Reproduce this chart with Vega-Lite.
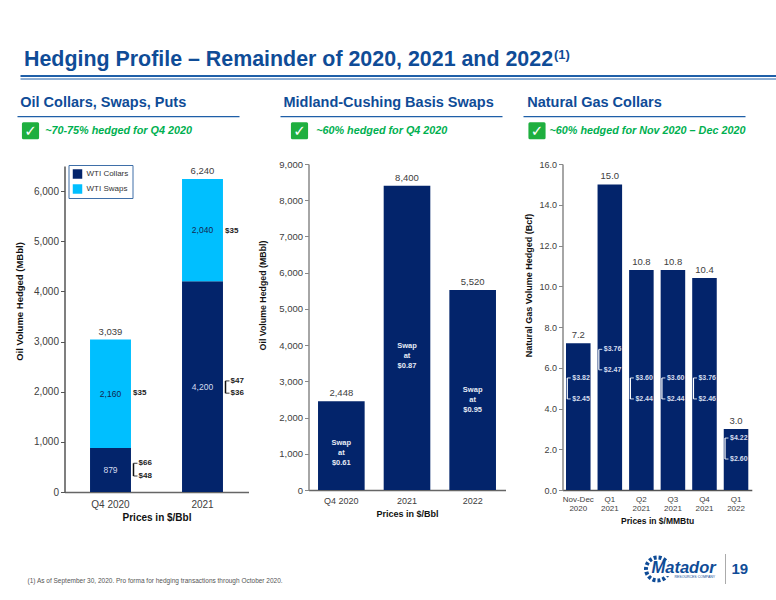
{
  "$schema": "https://vega.github.io/schema/vega-lite/v6.json",
  "background": "white",
  "padding": {"left": 14.5, "top": 0, "right": 0, "bottom": 0},
  "spacing": 0,
  "datasets": {
    "oil": [
      {"quarter": "Q4 2020", "series": "WTI Collars", "volume": 879, "rank": 1},
      {"quarter": "Q4 2020", "series": "WTI Swaps", "volume": 2160, "rank": 2},
      {"quarter": "2021", "series": "WTI Collars", "volume": 4200, "rank": 1},
      {"quarter": "2021", "series": "WTI Swaps", "volume": 2040, "rank": 2}
    ],
    "oilTotals": [
      {"quarter": "Q4 2020", "total": 3039},
      {"quarter": "2021", "total": 6240}
    ],
    "oilSwapPrices": [
      {"quarter": "Q4 2020", "price": "$35", "at": 1976},
      {"quarter": "2021", "price": "$35", "at": 5200}
    ],
    "oilCollarPrices": [
      {"quarter": "Q4 2020", "price": "$66", "at": 572},
      {"quarter": "Q4 2020", "price": "$48", "at": 319},
      {"quarter": "2021", "price": "$47", "at": 2215},
      {"quarter": "2021", "price": "$36", "at": 1970}
    ],
    "oilBrackets": [
      {"quarter": "Q4 2020", "high": 572, "low": 319},
      {"quarter": "2021", "high": 2215, "low": 1970}
    ],
    "basis": [
      {"period": "Q4 2020", "volume": 2448, "note": ["Swap", "at", "$0.61"], "noteAt": 1298},
      {"period": "2021", "volume": 8400, "note": ["Swap", "at", "$0.87"], "noteAt": 3978},
      {"period": "2022", "volume": 5520, "note": ["Swap", "at", "$0.95"], "noteAt": 2762}
    ],
    "gas": [
      {"period": "Nov-Dec 2020", "volume": 7.2, "high": 5.5, "low": 4.47, "highPrice": "$3.82", "lowPrice": "$2.45"},
      {"period": "Q1 2021", "volume": 15.0, "high": 6.9, "low": 5.9, "highPrice": "$3.76", "lowPrice": "$2.47"},
      {"period": "Q2 2021", "volume": 10.8, "high": 5.5, "low": 4.47, "highPrice": "$3.60", "lowPrice": "$2.44"},
      {"period": "Q3 2021", "volume": 10.8, "high": 5.5, "low": 4.47, "highPrice": "$3.60", "lowPrice": "$2.44"},
      {"period": "Q4 2021", "volume": 10.4, "high": 5.5, "low": 4.47, "highPrice": "$3.76", "lowPrice": "$2.46"},
      {"period": "Q1 2022", "volume": 3.0, "high": 2.55, "low": 1.52, "highPrice": "$4.22", "lowPrice": "$2.60"}
    ]
  },
  "vconcat": [
    {
      "bounds": "flush",
      "spacing": 0,
      "hconcat": [
        {"width": 2.5, "height": 81, "data": {"values": []}, "mark": "point"},
        {
          "width": 755.5,
          "height": 81,
          "layer": [
            {
              "data": {"values": [{"row": "upper"}]},
              "mark": {"type": "rule", "color": "#1F5FA8", "strokeWidth": 2},
              "encoding": {"y": {"field": "row", "type": "nominal", "axis": null, "scale": {"type": "point", "domain": ["upper", "lower"], "range": [76, 79], "padding": 0}}}
            },
            {
              "data": {"values": [{"row": "lower"}]},
              "mark": {"type": "rule", "color": "#1F5FA8", "strokeWidth": 1},
              "encoding": {"y": {"field": "row", "type": "nominal", "axis": null}}
            },
            {
              "data": {"values": [
                {"part": "main", "row": "upper", "label": "Hedging Profile – Remainder of 2020, 2021 and 2022"}
              ]},
              "mark": {"type": "text", "align": "left", "baseline": "middle", "dy": -16, "font": "Liberation Sans", "fontWeight": "bold", "fontSize": 21.4, "color": "#0F4C97"},
              "encoding": {
                "x": {"field": "part", "type": "nominal", "axis": null, "scale": {"type": "point", "domain": ["main", "sup"], "range": [3.5, 533.5], "padding": 0}},
                "y": {"field": "row", "type": "nominal", "axis": null},
                "text": {"field": "label"}
              }
            },
            {
              "data": {"values": [{"part": "sup", "row": "upper", "label": "(1)"}]},
              "mark": {"type": "text", "align": "left", "baseline": "middle", "dy": -21, "font": "Liberation Sans", "fontWeight": "bold", "fontSize": 13, "color": "#0F4C97"},
              "encoding": {
                "x": {"field": "part", "type": "nominal", "axis": null},
                "y": {"field": "row", "type": "nominal", "axis": null},
                "text": {"field": "label"}
              }
            }
          ]
        }
      ]
    },
    {
      "bounds": "flush",
      "spacing": 0,
      "hconcat": [
        {
          "width": 222,
          "height": 78,
          "data": {"values": [
            {"part": "check", "row": "heading", "kind": "title", "label": "Oil Collars, Swaps, Puts"},
            {"part": "check", "row": "rule", "kind": "rule"},
            {"part": "check", "row": "note", "kind": "box", "label": "✓"},
            {"part": "note", "row": "note", "kind": "note", "label": "~70-75% hedged for Q4 2020"}
          ]},
          "encoding": {
            "x": {"field": "part", "type": "nominal", "axis": null, "scale": {"type": "point", "domain": ["check", "note"], "range": [13, 27.7], "padding": 0}},
            "y": {"field": "row", "type": "nominal", "axis": null, "scale": {"type": "point", "domain": ["heading", "rule", "note"], "range": [21.5, 49.7], "padding": 0}}
          },
          "layer": [
            {"transform": [{"filter": "datum.kind == 'rule'"}], "mark": {"type": "rule", "color": "#1F5FA8", "strokeWidth": 1.2}, "encoding": {"x": null}},
            {"transform": [{"filter": "datum.kind == 'title'"}], "mark": {"type": "text", "align": "left", "baseline": "middle", "dx": -10.3, "fontWeight": "bold", "fontSize": 14.5, "color": "#0F4C97", "font": "Liberation Sans"}, "encoding": {"text": {"field": "label"}}},
            {"transform": [{"filter": "datum.kind == 'box'"}], "mark": {"type": "point", "shape": "square", "size": 200, "filled": true, "color": "#1FAF3F", "stroke": "#1FAF3F", "strokeWidth": 3, "strokeJoin": "round", "opacity": 1}},
            {"transform": [{"filter": "datum.kind == 'box'"}], "mark": {"type": "text", "baseline": "middle", "font": "DejaVu Sans", "fontWeight": "bold", "fontSize": 15, "color": "white"}, "encoding": {"text": {"field": "label"}}},
            {"transform": [{"filter": "datum.kind == 'note'"}], "mark": {"type": "text", "align": "left", "baseline": "middle", "fontWeight": "bold", "fontStyle": "italic", "fontSize": 10.8, "color": "#00B050", "font": "Liberation Sans"}, "encoding": {"text": {"field": "label"}}}
          ]
        },
        {"width": 41, "height": 78, "data": {"values": []}, "mark": "point"},
        {
          "width": 222,
          "height": 78,
          "data": {"values": [
            {"part": "check", "row": "heading", "kind": "title", "label": "Midland-Cushing Basis Swaps"},
            {"part": "check", "row": "rule", "kind": "rule"},
            {"part": "check", "row": "note", "kind": "box", "label": "✓"},
            {"part": "note", "row": "note", "kind": "note", "label": "~60% hedged for Q4 2020"}
          ]},
          "encoding": {
            "x": {"field": "part", "type": "nominal", "axis": null, "scale": {"type": "point", "domain": ["check", "note"], "range": [19, 35.7], "padding": 0}},
            "y": {"field": "row", "type": "nominal", "axis": null, "scale": {"type": "point", "domain": ["heading", "rule", "note"], "range": [21.5, 49.7], "padding": 0}}
          },
          "layer": [
            {"transform": [{"filter": "datum.kind == 'rule'"}], "mark": {"type": "rule", "color": "#1F5FA8", "strokeWidth": 1.2}, "encoding": {"x": null}},
            {"transform": [{"filter": "datum.kind == 'title'"}], "mark": {"type": "text", "align": "left", "baseline": "middle", "dx": -16, "fontWeight": "bold", "fontSize": 14.5, "color": "#0F4C97", "font": "Liberation Sans"}, "encoding": {"text": {"field": "label"}}},
            {"transform": [{"filter": "datum.kind == 'box'"}], "mark": {"type": "point", "shape": "square", "size": 200, "filled": true, "color": "#1FAF3F", "stroke": "#1FAF3F", "strokeWidth": 3, "strokeJoin": "round", "opacity": 1}},
            {"transform": [{"filter": "datum.kind == 'box'"}], "mark": {"type": "text", "baseline": "middle", "font": "DejaVu Sans", "fontWeight": "bold", "fontSize": 15, "color": "white"}, "encoding": {"text": {"field": "label"}}},
            {"transform": [{"filter": "datum.kind == 'note'"}], "mark": {"type": "text", "align": "left", "baseline": "middle", "fontWeight": "bold", "fontStyle": "italic", "fontSize": 10.8, "color": "#00B050", "font": "Liberation Sans"}, "encoding": {"text": {"field": "label"}}}
          ]
        },
        {"width": 21, "height": 78, "data": {"values": []}, "mark": "point"},
        {
          "width": 222,
          "height": 78,
          "data": {"values": [
            {"part": "check", "row": "heading", "kind": "title", "label": "Natural Gas Collars"},
            {"part": "check", "row": "rule", "kind": "rule"},
            {"part": "check", "row": "note", "kind": "box", "label": "✓"},
            {"part": "note", "row": "note", "kind": "note", "label": "~60% hedged for Nov 2020 – Dec 2020"}
          ]},
          "encoding": {
            "x": {"field": "part", "type": "nominal", "axis": null, "scale": {"type": "point", "domain": ["check", "note"], "range": [13.5, 26], "padding": 0}},
            "y": {"field": "row", "type": "nominal", "axis": null, "scale": {"type": "point", "domain": ["heading", "rule", "note"], "range": [21.5, 49.7], "padding": 0}}
          },
          "layer": [
            {"transform": [{"filter": "datum.kind == 'rule'"}], "mark": {"type": "rule", "color": "#1F5FA8", "strokeWidth": 1.2}, "encoding": {"x": null}},
            {"transform": [{"filter": "datum.kind == 'title'"}], "mark": {"type": "text", "align": "left", "baseline": "middle", "dx": -9.8, "fontWeight": "bold", "fontSize": 14.5, "color": "#0F4C97", "font": "Liberation Sans"}, "encoding": {"text": {"field": "label"}}},
            {"transform": [{"filter": "datum.kind == 'box'"}], "mark": {"type": "point", "shape": "square", "size": 200, "filled": true, "color": "#1FAF3F", "stroke": "#1FAF3F", "strokeWidth": 3, "strokeJoin": "round", "opacity": 1}},
            {"transform": [{"filter": "datum.kind == 'box'"}], "mark": {"type": "text", "baseline": "middle", "font": "DejaVu Sans", "fontWeight": "bold", "fontSize": 15, "color": "white"}, "encoding": {"text": {"field": "label"}}},
            {"transform": [{"filter": "datum.kind == 'note'"}], "mark": {"type": "text", "align": "left", "baseline": "middle", "fontWeight": "bold", "fontStyle": "italic", "fontSize": 10.8, "color": "#00B050", "font": "Liberation Sans"}, "encoding": {"text": {"field": "label"}}}
          ]
        }
      ]
    },
    {
      "bounds": "flush",
      "spacing": 0,
      "hconcat": [
        {"width": 47, "height": 328, "data": {"values": []}, "mark": "point"},
        {
          "width": 184,
          "height": 328,
          "encoding": {
            "x": {"field": "quarter", "type": "nominal", "sort": ["Q4 2020", "2021"], "title": "Prices in $/Bbl",
              "scale": {"domain": ["Q4 2020", "2021"], "paddingInner": 0.555, "paddingOuter": 0.2775},
              "axis": {"labelAngle": 0, "ticks": false, "labelFontSize": 10, "labelPadding": 7, "titleFontSize": 10, "titlePadding": 3, "domainColor": "#666666", "domainWidth": 1.5}}
          },
          "layer": [
            {
              "data": {"name": "oil"},
              "mark": {"type": "bar"},
              "encoding": {
                "y": {"field": "volume", "type": "quantitative", "stack": "zero", "title": "Oil Volume Hedged (MBbl)",
                  "scale": {"domain": [0, 6500], "range": [328, 2], "nice": false},
                  "axis": {"tickCount": 7, "format": ",d", "labelFontSize": 10, "labelOverlap": false, "titleFontSize": 9.5, "titleX": -40, "titleY": 137, "domainColor": "#555555", "domainWidth": 1.5, "tickColor": "#555555"}},
                "color": {"field": "series", "type": "nominal",
                  "scale": {"domain": ["WTI Collars", "WTI Swaps"], "range": ["#03246B", "#00BFFF"]},
                  "legend": {"title": null, "orient": "none", "legendX": 51, "legendY": 165, "symbolType": "square", "symbolSize": 90, "symbolStrokeWidth": 0, "labelFontSize": 8, "labelColor": "#333333", "strokeColor": "#3F6FA8", "padding": 4, "rowPadding": 5}},
                "order": {"field": "rank"}
              }
            },
            {
              "data": {"name": "oil"},
              "mark": {"type": "text", "baseline": "middle", "fontSize": 8.5},
              "encoding": {
                "y": {"field": "volume", "type": "quantitative", "stack": "zero", "bandPosition": 0.5},
                "detail": {"field": "series"},
                "order": {"field": "rank"},
                "text": {"field": "volume", "type": "quantitative", "format": ",d"},
                "color": {"condition": {"test": "datum.series == 'WTI Collars'", "value": "#D5DDEE"}, "value": "#12264F"}
              }
            },
            {
              "data": {"name": "oilTotals"},
              "mark": {"type": "text", "baseline": "bottom", "dy": -3, "fontSize": 9.5, "color": "#404040"},
              "encoding": {
                "y": {"field": "total", "type": "quantitative"},
                "text": {"field": "total", "type": "quantitative", "format": ",d"}
              }
            },
            {
              "data": {"name": "oilSwapPrices"},
              "mark": {"type": "text", "align": "left", "baseline": "middle", "dx": 22.6, "fontSize": 8, "fontWeight": "bold", "color": "#222222"},
              "encoding": {
                "y": {"field": "at", "type": "quantitative"},
                "text": {"field": "price"}
              }
            },
            {
              "data": {"name": "oilCollarPrices"},
              "mark": {"type": "text", "align": "left", "baseline": "middle", "dx": 28, "fontSize": 8, "fontWeight": "bold", "color": "#222222"},
              "encoding": {
                "y": {"field": "at", "type": "quantitative"},
                "text": {"field": "price"}
              }
            },
            {
              "data": {"name": "oilBrackets"},
              "mark": {"type": "rule", "color": "#111111", "strokeWidth": 1.5, "xOffset": 23},
              "encoding": {
                "y": {"field": "high", "type": "quantitative"},
                "y2": {"field": "low"}
              }
            },
            {
              "data": {"name": "oilCollarPrices"},
              "mark": {"type": "tick", "orient": "horizontal", "size": 4, "thickness": 1.2, "color": "#111111", "xOffset": 25},
              "encoding": {
                "y": {"field": "at", "type": "quantitative"}
              }
            }
          ]
        },
        {"width": 60, "height": 326, "data": {"values": []}, "mark": "point"},
        {
          "width": 197,
          "height": 326,
          "data": {"name": "basis"},
          "encoding": {
            "x": {"field": "period", "type": "nominal", "sort": ["Q4 2020", "2021", "2022"], "title": "Prices in $/Bbl",
              "scale": {"domain": ["Q4 2020", "2021", "2022"], "paddingInner": 0.29, "paddingOuter": 0.145},
              "axis": {"labelAngle": 0, "ticks": false, "labelFontSize": 9, "labelPadding": 6, "titleFontSize": 9, "titlePadding": 4, "domainColor": "#666666", "domainWidth": 1.5}}
          },
          "layer": [
            {
              "mark": {"type": "bar", "color": "#03246B"},
              "encoding": {
                "y": {"field": "volume", "type": "quantitative", "title": "Oil Volume Hedged (MBbl)",
                  "scale": {"domain": [0, 9000], "nice": false},
                  "axis": {"tickCount": 9, "format": ",d", "labelFontSize": 9.5, "labelOverlap": false, "titleFontSize": 8.8, "titleX": -41, "titleY": 131, "domainColor": "#888888", "domainWidth": 1.5, "tickColor": "#888888"}}
              }
            },
            {
              "mark": {"type": "text", "baseline": "bottom", "dy": -3, "fontSize": 9.5, "color": "#404040"},
              "encoding": {
                "y": {"field": "volume", "type": "quantitative"},
                "text": {"field": "volume", "type": "quantitative", "format": ",d"}
              }
            },
            {
              "mark": {"type": "text", "baseline": "middle", "fontSize": 7.5, "fontWeight": "bold", "lineHeight": 10, "color": "#E6EBF5"},
              "encoding": {
                "y": {"field": "noteAt", "type": "quantitative"},
                "text": {"field": "note"}
              }
            }
          ]
        },
        {"width": 56.7, "height": 326, "data": {"values": []}, "mark": "point"},
        {
          "width": 189.3,
          "height": 326,
          "data": {"name": "gas"},
          "encoding": {
            "x": {"field": "period", "type": "nominal", "sort": null, "title": "Prices in $/MMBtu",
              "scale": {"paddingInner": 0.222, "paddingOuter": 0.111},
              "axis": {"labelAngle": 0, "ticks": false, "labelExpr": "split(datum.label, ' ')", "labelFontSize": 8, "labelLineHeight": 9, "labelPadding": 5, "titleFontSize": 8.5, "titlePadding": 4, "domainColor": "#555555", "domainWidth": 1.5}}
          },
          "layer": [
            {
              "mark": {"type": "bar", "color": "#03246B"},
              "encoding": {
                "y": {"field": "volume", "type": "quantitative", "title": "Natural Gas Volume Hedged (Bcf)",
                  "scale": {"domain": [0, 16], "nice": false},
                  "axis": {"tickCount": 8, "format": ".1f", "labelFontSize": 9, "labelOverlap": false, "titleFontSize": 9, "titleX": -29, "titleY": 121, "domainColor": "#888888", "domainWidth": 1.5, "tickColor": "#888888"}}
              }
            },
            {
              "mark": {"type": "text", "baseline": "bottom", "dy": -3, "fontSize": 9.5, "color": "#404040"},
              "encoding": {
                "y": {"field": "volume", "type": "quantitative"},
                "text": {"field": "volume", "type": "quantitative", "format": ".1f"}
              }
            },
            {
              "mark": {"type": "rule", "color": "white", "strokeWidth": 1.2, "xOffset": -11},
              "encoding": {
                "y": {"field": "high", "type": "quantitative"},
                "y2": {"field": "low"}
              }
            },
            {
              "mark": {"type": "tick", "orient": "horizontal", "size": 3.5, "thickness": 1.2, "color": "white", "xOffset": -9.3},
              "encoding": {"y": {"field": "high", "type": "quantitative"}}
            },
            {
              "mark": {"type": "tick", "orient": "horizontal", "size": 3.5, "thickness": 1.2, "color": "white", "xOffset": -9.3},
              "encoding": {"y": {"field": "low", "type": "quantitative"}}
            },
            {
              "mark": {"type": "text", "align": "left", "baseline": "middle", "dx": -6, "fontSize": 7, "fontWeight": "bold", "color": "#D5DDEE"},
              "encoding": {
                "y": {"field": "high", "type": "quantitative"},
                "text": {"field": "highPrice"}
              }
            },
            {
              "mark": {"type": "text", "align": "left", "baseline": "middle", "dx": -6, "fontSize": 7, "fontWeight": "bold", "color": "#D5DDEE"},
              "encoding": {
                "y": {"field": "low", "type": "quantitative"},
                "text": {"field": "lowPrice"}
              }
            }
          ]
        }
      ]
    },
    {
      "width": 758,
      "height": 76,
      "data": {"values": [
        {"part": "note", "row": "foot", "kind": "note", "label": "(1) As of September 30, 2020. Pro forma for hedging transactions through October 2020."},
        {"part": "brand", "row": "mid", "kind": "gear"},
        {"part": "brand", "row": "mid", "kind": "logo", "label": "Matador"},
        {"part": "brand", "row": "sub", "kind": "sub", "label": "RESOURCES COMPANY"},
        {"part": "brand", "row": "mid", "kind": "sep"},
        {"part": "brand", "row": "mid", "kind": "page", "label": "19"}
      ]},
      "encoding": {
        "x": {"field": "part", "type": "nominal", "axis": null, "scale": {"type": "point", "domain": ["note", "brand"], "range": [10, 640], "padding": 0}},
        "y": {"field": "row", "type": "nominal", "axis": null, "scale": {"type": "point", "domain": ["mid", "sub", "foot"], "range": [44, 56], "padding": 0}}
      },
      "layer": [
        {"transform": [{"filter": "datum.kind == 'note'"}], "mark": {"type": "text", "align": "left", "baseline": "middle", "fontSize": 6.5, "color": "#555555"}, "encoding": {"text": {"field": "label"}}},
        {"transform": [{"filter": "datum.kind == 'gear'"}], "mark": {"type": "point", "shape": "circle", "size": 530, "color": "#0F4C97", "strokeWidth": 4, "strokeDash": [3, 2], "opacity": 1}},
        {"transform": [{"filter": "datum.kind == 'gear'"}], "mark": {"type": "point", "shape": "square", "size": 200, "filled": true, "color": "white", "opacity": 1, "xOffset": 8}},
        {"transform": [{"filter": "datum.kind == 'logo'"}], "mark": {"type": "text", "align": "left", "baseline": "middle", "dx": -6, "dy": -1, "fontSize": 16.5, "fontWeight": "bold", "fontStyle": "italic", "color": "#0F4C97"}, "encoding": {"text": {"field": "label"}}},
        {"transform": [{"filter": "datum.kind == 'sub'"}], "mark": {"type": "text", "align": "left", "baseline": "middle", "dx": 17, "dy": 2, "fontSize": 3.5, "color": "#0F4C97"}, "encoding": {"text": {"field": "label"}}},
        {"transform": [{"filter": "datum.kind == 'sep'"}], "mark": {"type": "tick", "orient": "vertical", "size": 30, "thickness": 1, "color": "#888888", "xOffset": 68}},
        {"transform": [{"filter": "datum.kind == 'page'"}], "mark": {"type": "text", "align": "left", "baseline": "middle", "dx": 74, "fontSize": 15, "fontWeight": "bold", "color": "#0F4C97"}, "encoding": {"text": {"field": "label"}}}
      ]
    }
  ],
  "config": {
    "font": "Liberation Sans",
    "view": {"stroke": null},
    "axis": {"grid": false, "labelColor": "#404040", "titleColor": "#111111", "titleFontWeight": "bold", "tickSize": 4},
    "text": {"font": "Liberation Sans"}
  }
}
